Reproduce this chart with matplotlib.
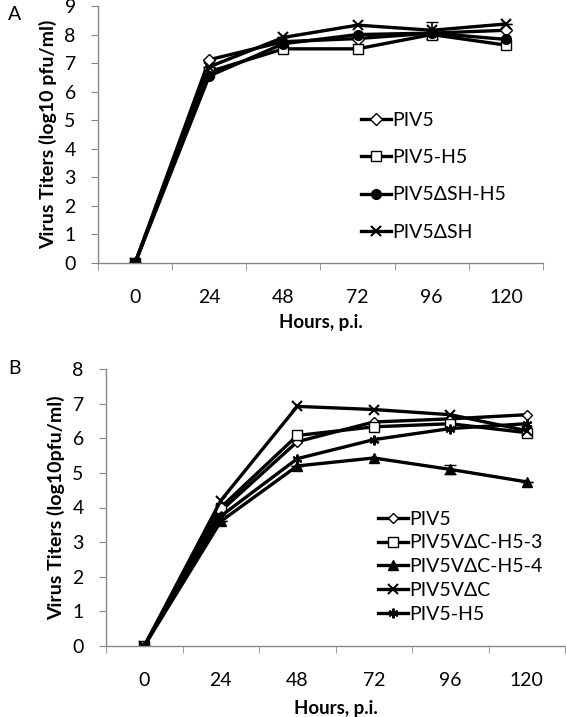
import matplotlib.pyplot as plt
import numpy as np

plt.rcParams["font.family"] = ["Lato", "DejaVu Sans"]

hours = ["0", "24", "48", "72", "96", "120"]

# panel A
a_piv5 = [0, 7.12, 7.75, 7.86, 8.05, 8.15]
a_piv5_h5 = [0, 6.7, 7.5, 7.5, 8.0, 7.63]
a_dsh_h5 = [0, 6.55, 7.68, 8.0, 8.05, 7.83]
a_dsh = [0, 6.87, 7.9, 8.33, 8.15, 8.37]
a_dsh_err = [0, 0, 0, 0, 0.3, 0]

# panel B
b_piv5 = [0, 3.9, 5.9, 6.47, 6.56, 6.68]
b_vdc_h5_3 = [0, 4.0, 6.08, 6.33, 6.42, 6.16]
b_vdc_h5_4 = [0, 3.6, 5.2, 5.43, 5.1, 4.74]
b_vdc_h5_4_err = [0, 0, 0, 0, 0.12, 0]
b_vdc = [0, 4.2, 6.92, 6.83, 6.68, 6.22]
b_piv5_h5 = [0, 3.75, 5.41, 5.96, 6.28, 6.42]

x = np.arange(len(hours))
asterisk = (6, 2, 0)

fig = plt.figure(figsize=(5.66, 7.17), dpi=100)
ax_a = fig.add_axes([98 / 566, 1 - 263 / 717, 445 / 566, 257 / 717])
ax_b = fig.add_axes([106 / 566, 1 - 646 / 717, 459 / 566, 277 / 717])


def style_axis(ax, ymax, ylabel, xlabelpad):
    ax.set_xlim(-0.5, 5.5)
    ax.set_ylim(0, ymax)
    ax.set_yticks(range(ymax + 1))
    ax.set_xticks(x)
    ax.set_xticklabels(hours)
    ax.set_xticks(np.arange(-0.5, 5.6, 1), minor=True)
    ax.tick_params(axis="x", which="major", length=0, pad=18.5, labelsize=14)
    ax.tick_params(axis="x", which="minor", length=5, color="#888888", direction="out")
    ax.tick_params(axis="y", length=5, color="#888888", labelsize=14, pad=11)
    for s in ["top", "right"]:
        ax.spines[s].set_visible(False)
    for s in ["left", "bottom"]:
        ax.spines[s].set_color("#888888")
        ax.spines[s].set_linewidth(1.0)
    ax.set_xlabel("Hours, p.i.", fontsize=13.5, fontweight="bold", labelpad=xlabelpad)
    ax.set_ylabel(ylabel, fontsize=14, fontweight="bold", labelpad=5)


lw = 2.4
ms = 7
ax_a.errorbar(x, a_dsh, yerr=a_dsh_err, fmt="none", ecolor="black", elinewidth=1.2, capsize=4)
ax_a.plot(x, a_piv5, color="black", lw=lw, marker="D", mfc="white", mec="black", ms=6.5, label="PIV5")
ax_a.plot(x, a_piv5_h5, color="black", lw=lw, marker="s", mfc="white", mec="black", ms=ms, label="PIV5-H5")
ax_a.plot(x, a_dsh_h5, color="black", lw=lw, marker="o", mfc="black", mec="black", ms=ms, label="PIV5ΔSH-H5")
ax_a.plot(x, a_dsh, color="black", lw=lw, marker="x", mec="black", mew=1.5, ms=ms, label="PIV5ΔSH")
style_axis(ax_a, 9, "Virus Titers (log10 pfu/ml)", 6)
ax_a.legend(loc="center left", bbox_to_anchor=(3.05, 3.04), bbox_transform=ax_a.transData,
            frameon=False, fontsize=14, handlelength=1.55, handletextpad=0.05, labelspacing=1.05,
            borderpad=0, borderaxespad=0)

ax_b.errorbar(x, b_vdc_h5_4, yerr=b_vdc_h5_4_err, fmt="none", ecolor="black", elinewidth=1.2, capsize=4)
ax_b.plot(x, b_piv5, color="black", lw=lw, marker="D", mfc="white", mec="black", ms=5, label="PIV5")
ax_b.plot(x, b_vdc_h5_3, color="black", lw=lw, marker="s", mfc="white", mec="black", ms=ms, label="PIV5VΔC-H5-3")
ax_b.plot(x, b_vdc_h5_4, color="black", lw=lw, marker="^", mfc="black", mec="black", ms=ms, label="PIV5VΔC-H5-4")
ax_b.plot(x, b_vdc, color="black", lw=lw, marker="x", mec="black", mew=1.5, ms=ms, label="PIV5VΔC")
ax_b.plot(x, b_piv5_h5, color="black", lw=lw, marker=asterisk, mec="black", mew=1.5, ms=ms, label="PIV5-H5")
style_axis(ax_b, 8, "Virus Titers (log10pfu/ml)", 8)
ax_b.legend(loc="center left", bbox_to_anchor=(3.06, 2.29), bbox_transform=ax_b.transData,
            frameon=False, fontsize=14, handlelength=1.55, handletextpad=0.05, labelspacing=0.35,
            borderpad=0, borderaxespad=0)

fig.text(8 / 566, 1 - 15 / 717, "A", fontsize=14, va="center")
fig.text(8 / 566, 1 - 368 / 717, "B", fontsize=14, va="center")

fig.savefig("out.png", dpi=100)
